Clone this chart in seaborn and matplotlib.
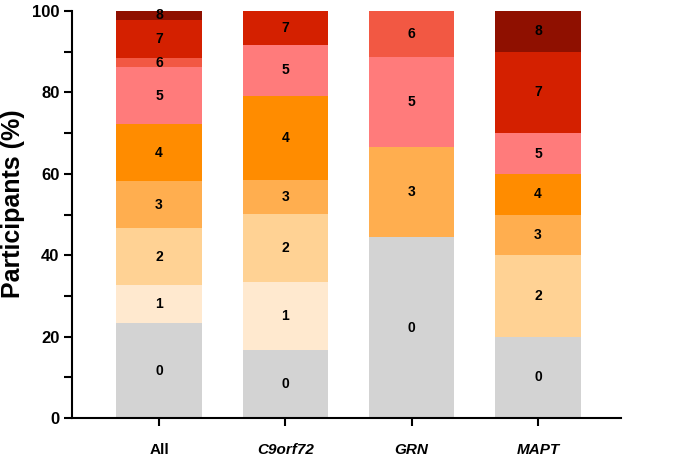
import matplotlib
matplotlib.use('Agg')
from matplotlib import pyplot as plt
from matplotlib.ticker import MultipleLocator
import numpy as np
import pandas as pd
import seaborn as sns

# groups and score levels
groups = ['All', 'C9orf72', 'GRN', 'MAPT']
levels = [0, 1, 2, 3, 4, 5, 6, 7, 8]

# percentage of participants per level, for each group
pct_all = [23.3, 9.3, 14.0, 11.6, 14.0, 14.0, 2.3, 9.3, 2.3]
pct_c9 = [16.7, 16.7, 16.7, 8.3, 20.8, 12.5, 0.0, 8.3, 0.0]
pct_grn = [44.4, 0.0, 0.0, 22.2, 0.0, 22.2, 11.1, 0.0, 0.0]
pct_mapt = [20.0, 0.0, 20.0, 10.0, 10.0, 10.0, 0.0, 20.0, 10.0]

level_colors = ['#d3d3d3', '#ffe9cf', '#ffd294', '#ffae4f', '#ff8c00',
                '#ff7b7b', '#f25843', '#d42000', '#8f1000']

plt.rcParams['font.family'] = ['Liberation Sans', 'DejaVu Sans']
plt.rcParams['font.weight'] = 'bold'

# long table with cumulative tops
pct = np.array([pct_all, pct_c9, pct_grn, pct_mapt])
tops = np.cumsum(pct, axis=1)
rows = []
for gi, g in enumerate(groups):
    for li, lev in enumerate(levels):
        rows.append({'group': g, 'level': lev, 'pct': pct[gi, li],
                     'top': tops[gi, li], 'base': tops[gi, li] - pct[gi, li]})
df = pd.DataFrame(rows)

fig = plt.figure(figsize=(6.85, 4.61), dpi=100)
ax = fig.add_axes([0.105, 0.093, 0.802, 0.883])

# draw from highest level down so lower levels cover the upper ones
for li in reversed(range(len(levels))):
    sub = df[df['level'] == levels[li]]
    sns.barplot(data=sub, x='group', y='top', order=groups, color=level_colors[li],
                width=0.675, saturation=1, errorbar=None, ax=ax, linewidth=0)

# segment labels
for _, r in df.iterrows():
    if r['pct'] > 0:
        ax.text(groups.index(r['group']), r['base'] + r['pct'] / 2, str(r['level']),
                ha='center', va='center', fontsize=10, fontweight='bold', color='black')

ax.set_xlim(-0.69, 3.66)
ax.set_ylim(0, 100)
ax.yaxis.set_major_locator(MultipleLocator(20))
ax.yaxis.set_minor_locator(MultipleLocator(10))
ax.set_xlabel('')
ax.set_ylabel('Participants (%)', fontsize=18, fontweight='bold', va='center')
ax.yaxis.set_label_coords(-0.107, 0.526)

ax.spines['top'].set_visible(False)
ax.spines['right'].set_visible(False)
ax.spines['left'].set_linewidth(1.5)
ax.spines['bottom'].set_linewidth(1.5)
ax.tick_params(axis='both', which='major', length=6, width=1.5, labelsize=12, pad=3)
ax.tick_params(axis='y', which='minor', length=6, width=1.5)
ax.tick_params(axis='x', pad=12)
for lab in ax.get_yticklabels():
    lab.set_fontweight('bold')
for lab in ax.get_xticklabels():
    lab.set_fontweight('bold')
    lab.set_fontsize(11)
    if lab.get_text() != 'All':
        lab.set_fontstyle('italic')

plt.savefig('out.png', dpi=100)
